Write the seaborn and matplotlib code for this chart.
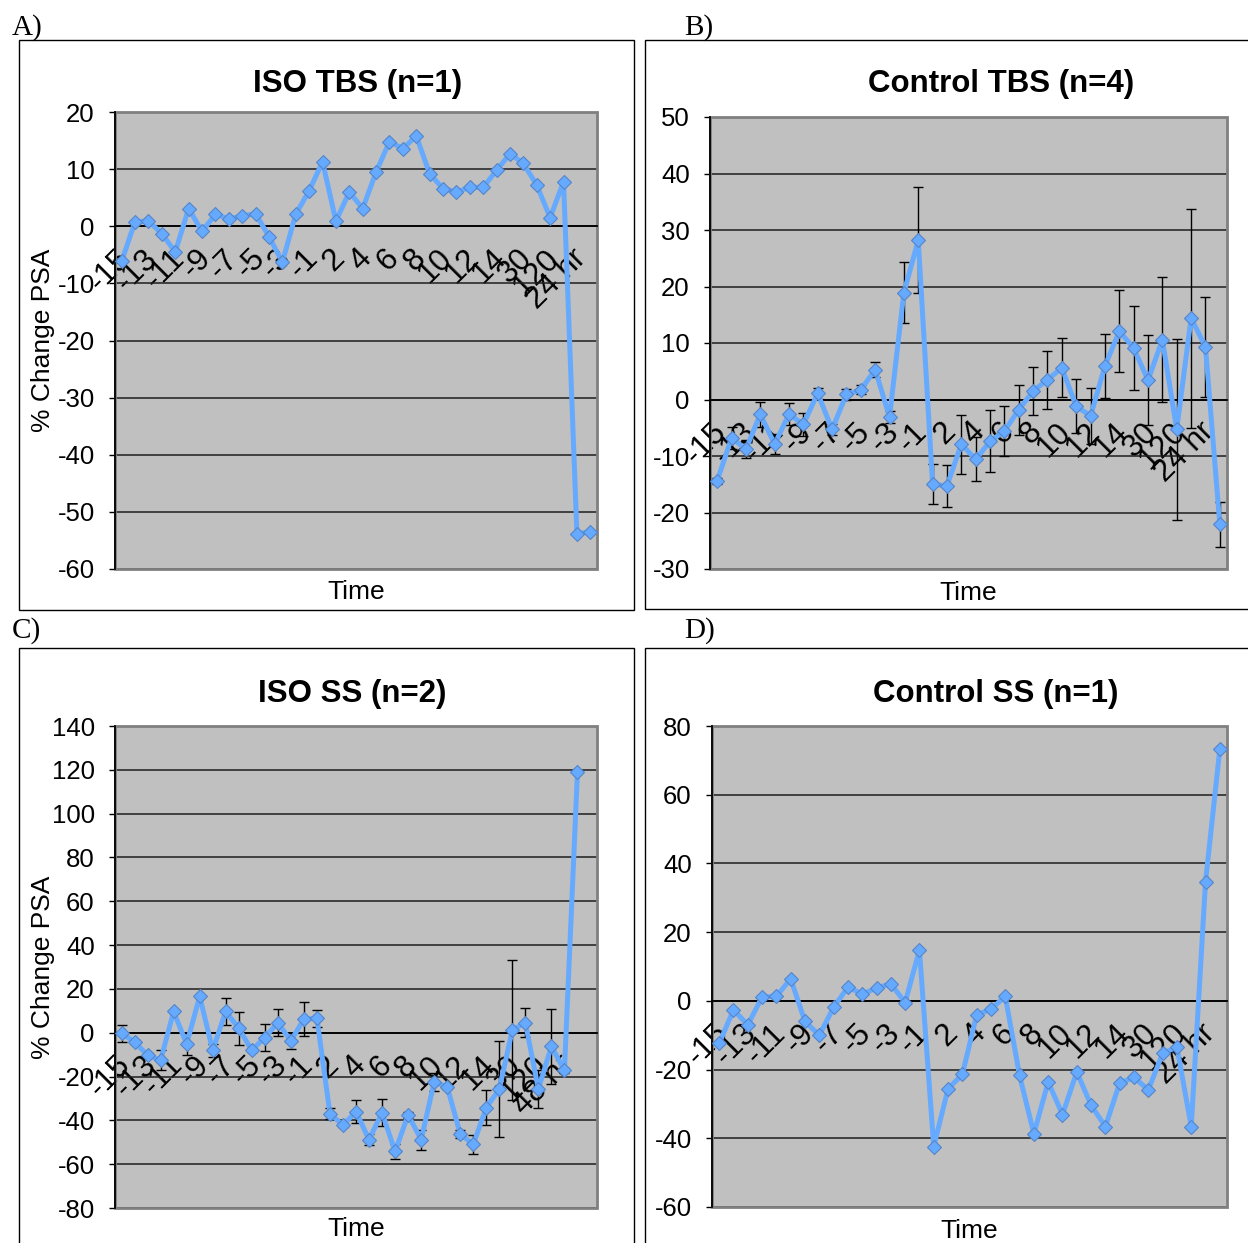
import numpy as np
import pandas as pd
import matplotlib
matplotlib.use("Agg")
import matplotlib.pyplot as plt
import matplotlib.transforms as mtransforms
import seaborn as sns
from matplotlib.patches import Rectangle
from matplotlib.ticker import FixedLocator

sns.set_style("white")
plt.rcParams["font.family"] = ["Liberation Sans", "DejaVu Sans"]
plt.rcParams["axes.unicode_minus"] = False
for k in ["text.color", "axes.labelcolor", "xtick.color", "ytick.color"]:
    plt.rcParams[k] = "black"

# ---------------- data ----------------
pre_times = [str(v) for v in range(-15, 0)]
post_times = [str(v) for v in range(1, 16)]
times_std = pre_times + post_times + ["30", "60", "120", "240", "24 hr", "48 hr"]
times_c = pre_times + post_times + ["30", "60", "120", "24 hr", "48 hr", "72 hr", ""]

iso_tbs = [-6.1, 0.8, 0.9, -1.3, -4.5, 3.1, -0.9, 2.1, 1.3, 1.8, 2.2, -1.8, -6.3, 2.1,
           6.2, 11.3, 0.9, 6.0, 3.1, 9.5, 14.8, 13.6, 15.8, 9.2, 6.6, 6.0, 6.8, 6.8,
           9.8, 12.7, 11.0, 7.2, 1.5, 7.8, -53.8, -53.5]

ctrl_tbs = [-14.4, -6.8, -8.8, -2.6, -7.9, -2.6, -4.4, 1.1, -5.3, 0.9, 1.7, 5.3, -3.1,
            18.9, 28.2, -15.0, -15.3, -7.9, -10.6, -7.4, -5.6, -1.8, 1.5, 3.5, 5.6,
            -1.2, -2.9, 5.9, 12.1, 9.1, 3.4, 10.6, -5.3, 14.4, 9.3, -22.1]
ctrl_tbs_err = [0.5, 2.0, 1.6, 2.2, 1.8, 2.0, 2.0, 1.0, 1.0, 1.0, 0.8, 1.3, 1.0, 5.4,
                9.4, 3.5, 3.7, 5.2, 3.9, 5.5, 4.4, 4.4, 4.2, 5.1, 5.2, 4.8, 5.0, 5.7,
                7.3, 7.4, 8.0, 11.0, 16.0, 19.4, 8.8, 4.0]

iso_ss = [-0.3, -4.2, -10.3, -12.6, 9.7, -5.2, 16.6, -8.0, 9.7, 2.0, -8.0, -2.2, 4.6,
          -3.7, 6.2, 6.6, -36.9, -42.2, -36.0, -48.8, -36.5, -54.2, -37.5, -48.8,
          -22.6, -24.6, -46.2, -51.0, -34.2, -25.7, 1.2, 4.6, -25.7, -6.2, -17.2, 118.9]
iso_ss_err = [3.8, 1.0, 1.0, 4.6, 0.5, 5.0, 0.5, 3.0, 6.2, 7.5, 1.0, 6.3, 6.3, 3.8, 7.7,
              3.8, 2.5, 1.0, 5.3, 2.5, 6.2, 3.4, 1.5, 4.6, 4.0, 1.0, 2.0, 4.3, 8.0,
              21.9, 32.0, 6.6, 8.5, 17.0, 1.0, 0.5]

ctrl_ss = [-12.4, -2.6, -7.0, 1.1, 1.3, 6.4, -6.0, -10.0, -1.9, 4.0, 2.0, 3.7, 5.0, -0.5,
           14.8, -42.4, -25.6, -21.4, -4.1, -2.4, 1.3, -21.7, -38.7, -23.6, -33.1,
           -20.7, -30.4, -36.6, -23.9, -22.3, -25.9, -15.3, -13.4, -36.6, 34.7, 73.3]

LINE = "#66AAFF"
EDGE = "#5585C8"
W, H = 1248, 1243

fig = plt.figure(figsize=(W / 100, H / 100), dpi=100)


def fx(px):
    return px / W


def fy(py):
    return 1 - py / H


# chart-area boxes
for (x0, y0, x1, y1) in [(19, 40, 634, 610), (645, 40, 1260, 609),
                         (19, 648, 634, 1260), (645, 648, 1260, 1260)]:
    fig.add_artist(Rectangle((fx(x0), fy(y1)), fx(x1 - x0), (y1 - y0) / H,
                             transform=fig.transFigure, fill=False, ec="black", lw=1.0))

for txt, x, y in [("A)", 12, 35), ("B)", 684, 35), ("C)", 12, 638), ("D)", 684, 638)]:
    fig.text(fx(x), fy(y), txt, family=["Liberation Serif", "DejaVu Serif"],
             fontsize=21, va="baseline", ha="left")

label_shift = mtransforms.ScaledTranslation(-0.06, -0.02, fig.dpi_scale_trans)


def panel(box, cats, vals, err, ylim, ystep, title, tx, title_cy, ylabel, xlab_y):
    l, t, r, b = box
    ax = fig.add_axes([fx(l), fy(b), fx(r - l), (b - t) / H])
    n = len(cats)
    pos = np.arange(len(vals))
    df = pd.DataFrame({"pos": pos, "val": vals})
    if err is not None:
        ax.errorbar(pos, vals, yerr=err, fmt="none", ecolor="black", elinewidth=1.0,
                    capsize=3.8, capthick=1.0, zorder=2.5)
    sns.lineplot(data=df, x="pos", y="val", ax=ax, color=LINE, lw=3.6, marker="D",
                 markersize=7.5, markeredgecolor=EDGE, markeredgewidth=0.8,
                 markerfacecolor=LINE, sort=False, zorder=3)
    ax.set_xlim(-0.5, n - 0.5)
    ax.set_ylim(*ylim)
    ax.set_facecolor("#C0C0C0")
    ax.yaxis.set_major_locator(FixedLocator(np.arange(ylim[0], ylim[1] + 1, ystep)))
    ax.grid(axis="y", color="#1e1e1e", lw=1.1)
    ax.grid(axis="x", visible=False)
    ax.set_axisbelow(True)

    for s in ["top", "right"]:
        ax.spines[s].set_visible(False)
    ax.spines["left"].set_color("black")
    ax.spines["left"].set_linewidth(1.3)
    ax.spines["bottom"].set_position(("data", 0))
    ax.spines["bottom"].set_color("black")
    ax.spines["bottom"].set_linewidth(1.3)
    ax.add_patch(Rectangle((0, 0), 1, 1, transform=ax.transAxes, fill=False,
                           ec="#808080", lw=2.0, clip_on=False, zorder=0.9))

    lab_idx = list(range(0, n, 2))
    ax.set_xticks(lab_idx)
    ax.set_xticklabels([cats[i] for i in lab_idx])
    ax.set_xticks(np.arange(-0.5, n, 1.0), minor=True)
    ax.tick_params(axis="x", which="major", length=0, pad=11, labelsize=22.5)
    ax.tick_params(axis="x", which="minor", length=5.5, width=1.0, color="black",
                   direction="out")
    for lab in ax.get_xticklabels():
        lab.set_rotation(45)
        lab.set_ha("right")
        lab.set_va("top")
        lab.set_rotation_mode("anchor")
        lab.set_transform(lab.get_transform() + label_shift)
    ax.tick_params(axis="y", length=4.5, width=1.0, color="black", direction="out",
                   pad=10, labelsize=18.5, left=True)

    ax.set_title(title, x=tx, y=(b - title_cy) / (b - t), fontsize=22.5,
                 fontweight="bold", pad=0, va="center")

    ax.set_xlabel("Time", fontsize=19)
    ax.xaxis.set_label_coords(0.5, xlab_y)
    if ylabel:
        ax.set_ylabel("% Change PSA", fontsize=19)
        ax.yaxis.set_label_coords(-0.125, 0.5)
    else:
        ax.set_ylabel("")
    return ax


boxA = (115, 112, 597, 569)
boxB = (710, 117, 1227, 569)
boxC = (115, 726, 597, 1208)
boxD = (712, 726, 1227, 1207)

panel(boxA, times_std, iso_tbs, None, (-60, 20), 10, "ISO TBS (n=1)", 0.504, 84, True, -0.024)
panel(boxB, times_std, ctrl_tbs, ctrl_tbs_err, (-30, 50), 10, "Control TBS (n=4)", 0.563, 84, False, -0.027)
panel(boxC, times_c, iso_ss, iso_ss_err, (-80, 140), 20, "ISO SS (n=2)", 0.493, 694, True, -0.019)
panel(boxD, times_std, ctrl_ss, None, (-60, 80), 20, "Control SS (n=1)", 0.551, 694, False, -0.025)

fig.savefig("out.png", dpi=100)
